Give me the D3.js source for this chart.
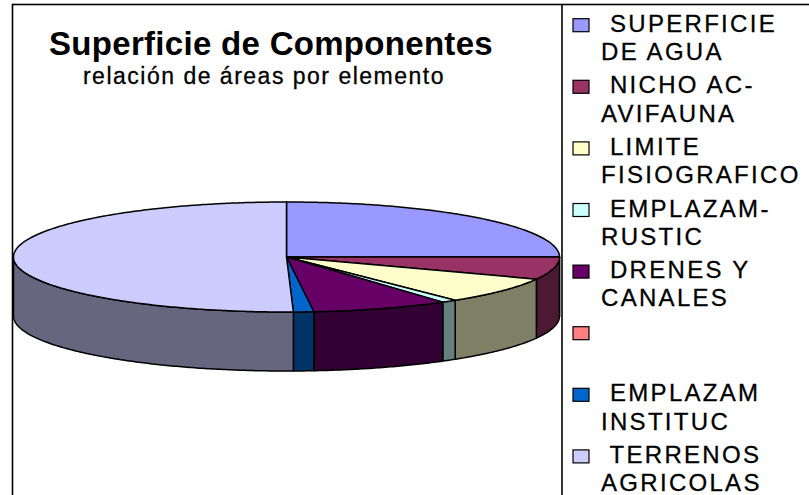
<!DOCTYPE html>
<html>
<head>
<meta charset="utf-8">
<script src="https://cdn.jsdelivr.net/npm/d3@7"></script>
<style>
  html, body { margin: 0; padding: 0; background: #fff; }
  text { font-family: Arial, "Liberation Sans", sans-serif; }
</style>
</head>
<body>
<div id="chart"></div>
<script>
// Chart data
var categories = [
    "SUPERFICIE\nDE AGUA",
    "NICHO AC-\nAVIFAUNA",
    "LIMITE\nFISIOGRAFICO",
    "EMPLAZAM-\nRUSTIC",
    "DRENES Y\nCANALES",
    "",
    "EMPLAZAM\nINSTITUC",
    "TERRENOS\nAGRICOLAS"
]
var values = [25.0, 6.6, 7.8, 0.9, 8.1, 0, 1.2, 50.4]
var colors = ["#9999FF", "#993366", "#FFFFCC", "#CCFFFF", "#660066", "#FF8080", "#0066CC", "#CCCCFF"]
var title = "Superficie de Componentes"
var subtitle = "relación de áreas por elemento"

// Dimensions
var width = 809
var height = 495

var cx = 286.5, cy = 257
var rx = 273, ry = 55
var depth = 59

var svg = d3.select('#chart')
    .append('svg')
    .attr('width', width)
    .attr('height', height)

// Chart area border (runs off the bottom / right of the picture)
svg.append('rect')
    .attr('x', 12.5)
    .attr('y', 4.5)
    .attr('width', width + 20)
    .attr('height', height + 20)
    .attr('fill', 'none')
    .attr('stroke', '#000')
    .attr('stroke-width', 1.6)

// Titles
svg.append('text')
    .attr('x', 271)
    .attr('y', 55)
    .attr('text-anchor', 'middle')
    .style('font-size', '33px')
    .style('font-weight', 'bold')
    .style('letter-spacing', '0.3px')
    .text(title)

svg.append('text')
    .attr('x', 264)
    .attr('y', 84)
    .attr('text-anchor', 'middle')
    .style('font-size', '23px')
    .style('letter-spacing', '1.5px')
    .attr('stroke', '#000')
    .attr('stroke-width', 0.3)
    .text(subtitle)

// Projection of the unit circle onto the tilted pie
var xScale = d3.scaleLinear().domain([-1, 1]).range([cx - rx, cx + rx])
var yScale = d3.scaleLinear().domain([-1, 1]).range([cy - ry, cy + ry])

function pt(a, dz) {
    return [xScale(Math.sin(a)), yScale(-Math.cos(a)) + (dz || 0)]
}
function arcPoints(a0, a1, dz) {
    var n = Math.max(2, Math.ceil((a1 - a0) / 0.01))
    return d3.range(n + 1).map(i => pt(a0 + (a1 - a0) * i / n, dz))
}
var line = d3.line()

var arcs = d3.pie().sort(null).value(d => d)(values)
    .map((d, i) => Object.assign(d, { color: colors[i] }))
    .filter(d => d.value > 0)

var pieGroup = svg.append('g')

// Outer walls, only the front half is visible
pieGroup.selectAll('path.wall')
    .data(arcs.filter(d => d.endAngle > Math.PI / 2 && d.startAngle < 3 * Math.PI / 2))
    .join('path')
    .attr('class', 'wall')
    .attr('d', d => {
        var a0 = Math.max(d.startAngle, Math.PI / 2)
        var a1 = Math.min(d.endAngle, 3 * Math.PI / 2)
        var pts = arcPoints(a0, a1, 0).concat(arcPoints(a0, a1, depth).reverse())
        return line(pts) + 'Z'
    })
    .attr('fill', d => d3.rgb(d.color).darker(Math.log(2) / Math.log(1 / 0.7)))
    .attr('stroke', '#000')
    .attr('stroke-width', 1.5)
    .attr('stroke-linejoin', 'round')

// Top faces
pieGroup.selectAll('path.top')
    .data(arcs)
    .join('path')
    .attr('class', 'top')
    .attr('d', d => line([[cx, cy]].concat(arcPoints(d.startAngle, d.endAngle, 0))) + 'Z')
    .attr('fill', d => d.color)
    .attr('stroke', '#000')
    .attr('stroke-width', 1.5)
    .attr('stroke-linejoin', 'round')

// Legend
var legendX = 562
svg.append('line')
    .attr('x1', legendX).attr('x2', legendX)
    .attr('y1', 4.5).attr('y2', height + 10)
    .attr('stroke', '#000')
    .attr('stroke-width', 1.6)

var legend = svg.append('g')
    .attr('transform', 'translate(' + legendX + ', 0)')

categories.forEach((s, i) => {
    var base = 31.7 + i * 61.6
    var row = legend.append('g')

    row.append('rect')
        .attr('x', 11)
        .attr('y', base - 13)
        .attr('width', 16)
        .attr('height', 13)
        .attr('fill', colors[i])
        .attr('stroke', '#000')
        .attr('stroke-width', 1.2)

    var lines = s ? s.split('\n') : []
    var t = row.append('text')
        .style('font-size', '24px')
        .style('letter-spacing', '2.3px')
        .style('white-space', 'pre')
        .attr('stroke', '#000')
        .attr('stroke-width', 0.3)
    lines.forEach((l, j) => {
        t.append('tspan')
            .attr('x', 39)
            .attr('y', base + j * 28.3)
            .text(j === 0 ? ' ' + l : l)
    })
})
</script>
</body>
</html>
